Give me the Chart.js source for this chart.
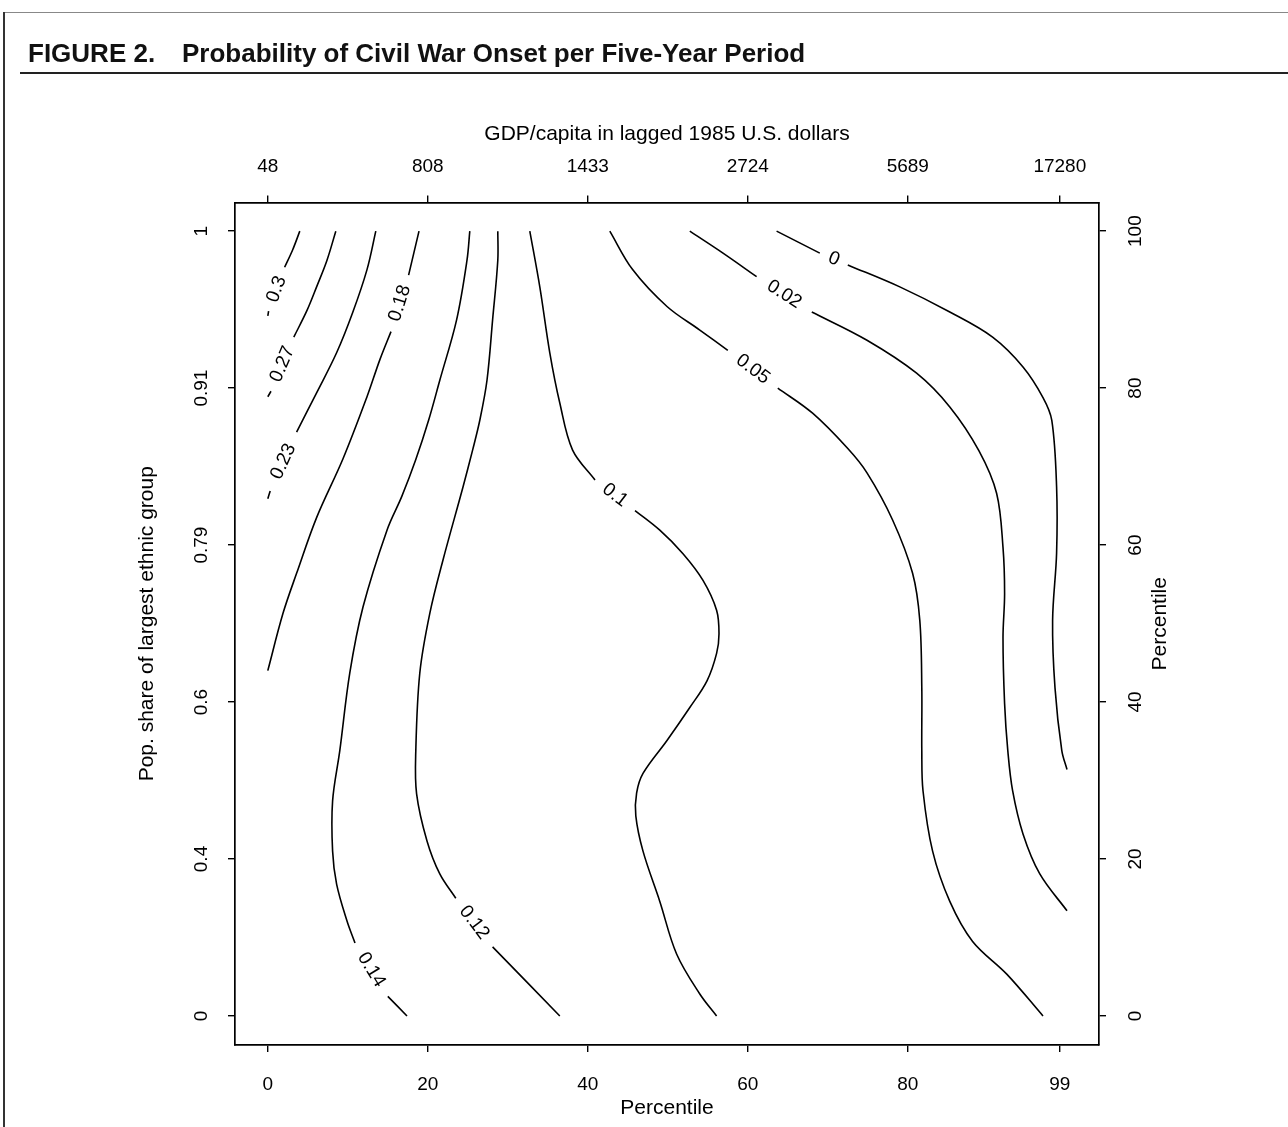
<!DOCTYPE html>
<html><head><meta charset="utf-8">
<script src="https://cdn.jsdelivr.net/npm/chart.js@4.4.1/dist/chart.umd.min.js"></script>
<style>
html,body{margin:0;padding:0;background:#fff;overflow:hidden;width:1288px;height:1127px;}
#wrap{position:absolute;left:0;top:0;width:1288px;height:1127px;}
.title{position:absolute;top:40px;font-family:"Liberation Sans",Arial,Helvetica,sans-serif;font-weight:bold;font-size:26px;line-height:26px;color:#111;white-space:nowrap;}
.rule{position:absolute;background:#222;}
</style></head><body>
<div id="wrap"><canvas id="c"></canvas></div>
<div class="rule" style="left:3px;top:12px;width:1285px;height:1px;background:#888"></div>
<div class="rule" style="left:3px;top:12px;width:2px;height:1115px;background:#333"></div>
<div class="title" style="left:28px">FIGURE 2.</div>
<div class="title" style="left:182px">Probability of Civil War Onset per Five-Year Period</div>
<div class="rule" style="left:20px;top:72px;width:1268px;height:2px"></div>
<script>
// ---- tick values / labels ----
const xTickValues = [0, 20, 40, 60, 80, 99];
const xBottomLabels = ['0', '20', '40', '60', '80', '99'];
const xTopLabels = ['48', '808', '1433', '2724', '5689', '17280'];
const yTickValues = [0, 20, 40, 60, 80, 100];
const yLeftLabels = ['0', '0.4', '0.6', '0.79', '0.91', '1'];
const yRightLabels = ['0', '20', '40', '60', '80', '100'];

// ---- contour levels and traced lines (x = GDP percentile, y = ethnic share percentile); null = label gap ----
const contourLevels = ['0.3', '0.27', '0.23', '0.18', '0.14', '0.12', '0.1', '0.05', '0.02', '0'];
const c030 = [[4.0,100],[3.1,97.6],[2.1,95.4], null, [0.1,89.8],[0,89.2]];
const c027 = [[8.5,100],[7.4,96.3],[6.1,92.9],[4.9,89.9],[3.25,86.5], null, [0.4,79.6],[0,78.9]];
const c023 = [[13.5,100],[12.4,95.1],[10.6,89.6],[8.6,84.5],[6.1,79.4],[3.6,74.4], null, [0.3,66.9],[0,65.9]];
const c018 = [[18.9,100],[17.6,94.4], null, [15.4,87.2],[14.0,83.6],[12.4,78.9],[9.4,71.0],[6.1,63.5],[3.6,56.4],[1.9,51.3],[0,44.0]];
const c014 = [[25.25,100],[24.9,96.3],[23.6,88.7],[21.5,81.0],[20.1,75.9],[18.5,70.9],[16.75,66.2],[14.9,61.9],[11.9,52.1],[10.25,43.7],[9.0,33.8],[8.1,27.4],[8.1,21.0],[8.6,16.8],[9.9,12.1],[10.9,9.3], null, [15.0,2.5],[17.4,0]];
const c012 = [[28.75,100],[28.75,96.3],[28.1,88.7],[27.4,81.0],[26.5,75.9],[25.6,72.1],[24.4,67.4],[21.9,58.1],[20.25,51.3],[19.0,43.7],[18.5,33.8],[18.6,28.3],[19.9,22.3],[21.5,18.1],[23.5,15.0], null, [28.1,8.8],[36.5,0]];
const c010 = [[32.75,100],[34.0,92.9],[35.25,84.5],[36.5,78.1],[38.1,72.1],[40.9,68.3], null, [45.9,64.4],[49.0,61.9],[51.9,58.9],[54.4,55.5],[56.1,51.7],[56.4,48.7],[56.1,46.2],[54.9,42.7],[52.75,39.3],[49.9,35.1],[46.9,30.9],[46.1,28.4],[46.0,25.5],[46.9,21.0],[49.0,14.6],[51.1,7.9],[54.0,2.8],[56.1,0]];
const c005 = [[42.75,100],[45.6,95.1],[49.9,90.4],[54.0,87.4],[57.5,84.8], null, [63.75,80.0],[68.1,76.8],[72.5,72.3],[74.9,69.2],[78.1,63.2],[80.6,56.4],[81.5,50.4],[81.75,41.8],[81.75,33.8],[81.9,28.7],[83.1,21.0],[85.25,14.6],[88.1,9.5],[92.4,5.3],[96.9,0]];
const c002 = [[52.75,100],[56.9,97.2],[61.1,94.2], null, [68.0,89.7],[74.9,86.1],[81.1,81.9],[85.25,77.6],[88.9,72.0],[91.1,66.6],[91.9,59.7],[92.1,53.8],[91.9,48.2],[92.1,39.8],[92.5,33.8],[93.1,28.7],[94.4,23.2],[96.5,18.1],[99.9,13.4]];
const c000 = [[63.6,100],[69.0,97.2], null, [72.5,95.7],[79.0,92.9],[85.25,89.7],[90.6,86.5],[94.4,82.7],[96.9,78.8],[98.0,75.9],[98.6,67.4],[98.6,59.0],[98.1,50.4],[98.4,41.8],[99.25,33.8],[99.9,31.4]];
const contourLines = [c030, c027, c023, c018, c014, c012, c010, c005, c002, c000];

const FONT = '"Liberation Sans", Arial, Helvetica, sans-serif';

const datasets = contourLines.map((pts, i) => ({
  label: contourLevels[i],
  data: pts.map(p => p ? {x: p[0], y: p[1]} : {x: null, y: null}),
  showLine: true,
  borderColor: '#000',
  borderWidth: 1.6,
  pointRadius: 0,
  pointHoverRadius: 0,
  tension: 0.35,
  spanGaps: false,
  fill: false
}));

const contourLabelPlugin = {
  id: 'contourLabels',
  afterDatasetsDraw(chart) {
    const ctx = chart.ctx, xs = chart.scales.x, ys = chart.scales.y;
    ctx.save();
    ctx.fillStyle = '#000';
    ctx.font = '19px ' + FONT;
    ctx.textAlign = 'center';
    ctx.textBaseline = 'middle';
    chart.data.datasets.forEach(ds => {
      const pts = ds.data;
      const gi = pts.findIndex(p => p.x === null);
      if (gi < 1) return;
      const a = pts[gi - 1], b = pts[gi + 1];
      const ax = xs.getPixelForValue(a.x), ay = ys.getPixelForValue(a.y);
      const bx = xs.getPixelForValue(b.x), by = ys.getPixelForValue(b.y);
      let dx = bx - ax, dy = by - ay;
      if (dx < 0) { dx = -dx; dy = -dy; }
      ctx.save();
      ctx.translate((ax + bx) / 2, (ay + by) / 2);
      ctx.rotate(Math.atan2(dy, dx));
      ctx.fillText(ds.label, 0, 0);
      ctx.restore();
    });
    ctx.restore();
  }
};

const rightTitlePlugin = {
  id: 'rightTitle',
  afterDraw(chart) {
    const ctx = chart.ctx, s = chart.scales.y2;
    ctx.save();
    ctx.fillStyle = '#000';
    ctx.font = '21px ' + FONT;
    ctx.textAlign = 'center';
    ctx.textBaseline = 'middle';
    ctx.translate(s.left + 61, (s.top + s.bottom) / 2);
    ctx.rotate(-Math.PI / 2);
    ctx.fillText('Percentile', 0, 0);
    ctx.restore();
  }
};

const gridOpts = { display: true, drawOnChartArea: false, drawTicks: true, tickLength: 7, color: '#000', lineWidth: 1.4 };
const borderOpts = { display: true, color: '#000', width: 1.7 };
const tickFont = { family: FONT, size: 19 };
const titleFont = { family: FONT, size: 21 };

new Chart(document.getElementById('c'), {
  type: 'scatter',
  data: { datasets },
  options: {
    responsive: true,
    maintainAspectRatio: false,
    devicePixelRatio: 1,
    animation: false,
    events: [],
    layout: { padding: { top: 90, left: 0, right: 0, bottom: 0 } },
    plugins: { legend: { display: false }, tooltip: { enabled: false }, title: { display: false } },
    scales: {
      x: {
        type: 'linear', position: 'bottom', min: -4.1, max: 103.9,
        afterBuildTicks: s => { s.ticks = xTickValues.map(v => ({ value: v })); },
        afterFit: s => { s.height = 82; },
        ticks: { autoSkip: false, minRotation: 0, maxRotation: 0, padding: 21, color: '#000', font: tickFont,
                 callback: v => xBottomLabels[xTickValues.indexOf(v)] },
        grid: gridOpts, border: borderOpts,
        title: { display: true, text: 'Percentile', color: '#000', font: titleFont, padding: { top: 0, bottom: 6 } }
      },
      x2: {
        type: 'linear', position: 'top', min: -4.1, max: 103.9,
        afterBuildTicks: s => { s.ticks = xTickValues.map(v => ({ value: v })); },
        afterFit: s => { s.height = 112.5; },
        ticks: { autoSkip: false, minRotation: 0, maxRotation: 0, padding: 17, color: '#000', font: tickFont,
                 callback: v => xTopLabels[xTickValues.indexOf(v)] },
        grid: gridOpts, border: borderOpts,
        title: { display: true, text: 'GDP/capita in lagged 1985 U.S. dollars', color: '#000', font: titleFont, padding: { top: 32, bottom: 0 } }
      },
      y: {
        type: 'linear', position: 'left', min: -3.7, max: 103.65,
        afterBuildTicks: s => { s.ticks = yTickValues.map(v => ({ value: v })); },
        afterFit: s => { s.width = 235; },
        ticks: { autoSkip: false, minRotation: 90, maxRotation: 90, crossAlign: 'center', padding: 8, color: '#000', font: tickFont,
                 callback: v => yLeftLabels[yTickValues.indexOf(v)] },
        grid: gridOpts, border: borderOpts,
        title: { display: true, text: 'Pop. share of largest ethnic group', color: '#000', font: titleFont, padding: { top: 135, bottom: 0 } }
      },
      y2: {
        type: 'linear', position: 'right', min: -3.7, max: 103.65,
        afterBuildTicks: s => { s.ticks = yTickValues.map(v => ({ value: v })); },
        afterFit: s => { s.width = 189; },
        ticks: { autoSkip: false, minRotation: 90, maxRotation: 90, crossAlign: 'center', padding: 14, color: '#000', font: tickFont,
                 callback: v => yRightLabels[yTickValues.indexOf(v)] },
        grid: gridOpts, border: borderOpts,
        title: { display: false }
      }
    }
  },
  plugins: [contourLabelPlugin, rightTitlePlugin]
});
</script>
</body></html>
